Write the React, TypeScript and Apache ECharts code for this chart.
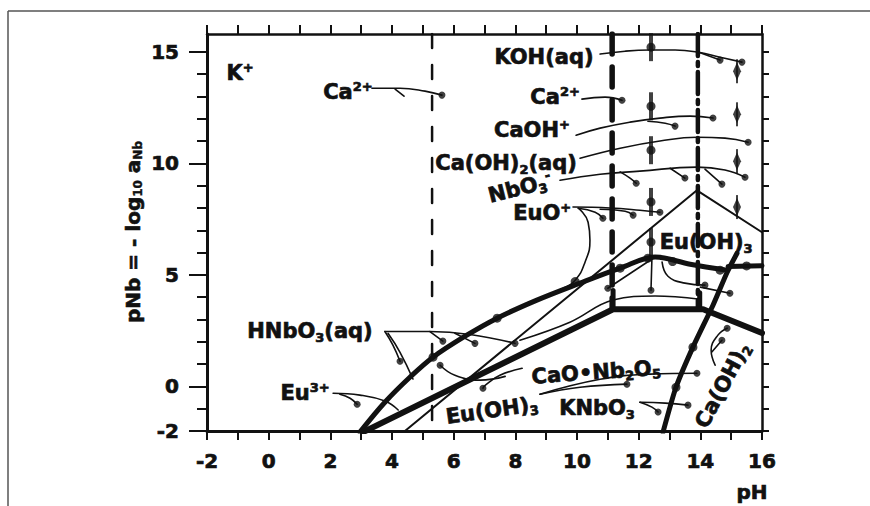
import React, { useEffect, useRef } from "react";
import * as echarts from "echarts";

const INK = "#111111";
const FONT = "DejaVu Sans";

// ---------- axis ranges / ticks ----------
const X_MIN = -2;
const X_MAX = 16;
const Y_MIN = -2;
const Y_MAX = 15.8;
const yMinorTicks = [-2, -1, 0, 1, 2, 3, 4, 5, 6, 7, 8, 9, 10, 11, 12, 13, 14, 15];
const yMajorTicks = [-2, 0, 5, 10, 15];

// ---------- vertical reference lines ----------
const dashedPH = [[5.3, 15.8], [5.3, -2]];
const thickDash1 = [[11.14, 15.8], [11.14, 3.46]];
const thickDash2 = [[13.92, 15.8], [13.92, 3.46]];
const dashEnd1 = [[11.17, 4.3], [11.17, 3.46]];
const dashEnd2 = [[13.98, 4.2], [13.98, 3.46]];
const columnA = [[12.4, 15.21], [12.4, 12.56], [12.4, 10.59], [12.4, 8.27], [12.4, 6.47]];
const columnB = [[15.19, 14.13], [15.19, 12.2], [15.19, 10.1], [15.19, 8.04]];

// ---------- thick predominance boundaries ----------
const thickUpper = [[2.96, -2.05], [3.77, -0.71], [4.58, 0.41], [5.33, 1.31], [6.37, 2.25], [7.41, 3.06], [8.7, 3.87], [10.1, 4.63], [11.4, 5.3], [12.53, 5.8], [13.67, 5.48], [14.87, 5.21]];
const thickRight = [[14.9, 5.37], [16, 5.41]];
const thickLower = [[3.06, -2.05], [11.17, 3.46], [14.09, 3.46], [16, 2.39]];
const thickCaOH2 = [[12.79, -2.05], [13.21, -0.04], [13.76, 1.76], [14.41, 3.64], [14.87, 5.12], [15.19, 5.97]];

// ---------- thin boundaries ----------
const thinRoof = [[4.42, -2], [13.89, 8.79], [16, 6.91]];
const thinArcTop = [[8.15, 2.07], [9.77, 2.88], [11.17, 3.87], [12.53, 4.05], [13.99, 3.91]];
const euoArc = [[10.04, 7.99], [10.36, 7.36], [10.42, 6.55], [10.26, 5.57], [9.94, 4.76], [9.55, 4.4]];

// ---------- label leaders ----------
const kohLead = [[10.75, 14.9], [11.56, 15.03], [12.37, 15.08], [13.18, 15.08], [13.89, 14.99], [14.64, 14.76], [15.35, 14.54]];
const kohBranch = [[13.95, 14.98], [14.64, 14.63]];
const ca2Lead = [[10.16, 12.88], [10.91, 12.97], [11.46, 12.83]];
const caohLead = [[9.97, 11.26], [10.75, 11.58], [11.72, 11.85], [12.69, 12.03], [13.67, 12.12], [14.41, 12.03]];
const caohBranch = [[12.3, 11.89], [12.86, 11.8], [13.18, 11.67]];
const caoh2aqLead = [[10.1, 10.23], [11.4, 10.68], [12.69, 11.0], [13.89, 11.17], [14.8, 11.13], [15.55, 10.95]];
const nbo3Lead = [[9.45, 9.24], [10.75, 9.51], [12.04, 9.65], [13.89, 9.83], [14.8, 9.7], [15.45, 9.38]];
const nbo3BranchA = [[11.4, 9.62], [11.72, 9.34], [11.92, 9.11]];
const nbo3BranchB = [[13.02, 9.78], [13.5, 9.34]];
const nbo3BranchC = [[14.15, 9.74], [14.7, 9.07]];
const euoLead = [[9.87, 8.04], [11.07, 8.0], [12.04, 7.9], [12.69, 7.81]];
const euoBranchA = [[10.04, 7.99], [10.59, 7.81], [10.84, 7.54]];
const euoBranchB = [[10.75, 7.94], [11.56, 7.85], [11.82, 7.68]];
const ca2LeftLead = [[3.35, 13.37], [4.26, 13.37], [5.07, 13.24], [5.62, 13.06]];
const ca2LeftBranch = [[4.1, 13.33], [4.39, 13.01]];
const hnbo3Lead = [[3.77, 2.46], [5.23, 2.46], [6.53, 2.33], [7.99, 1.93]];
const hnbo3BranchA = [[3.77, 2.46], [4.03, 1.85], [4.26, 1.13]];
const hnbo3BranchB = [[3.87, 2.38], [4.26, 1.53], [4.68, 0.33]];
const hnbo3BranchC = [[5.23, 2.46], [5.65, 2.03]];
const hnbo3BranchD = [[6.04, 2.38], [6.69, 1.93]];
const eu3Lead = [[2.09, -0.31], [2.96, -0.39], [3.77, -0.66], [4.2, -1.06]];
const eu3Branch = [[2.31, -0.35], [2.64, -0.53], [2.87, -0.8]];
const caoNbLead = [[8.22, 0.81], [7.5, 0.5], [7.02, 0.05], [6.95, -0.08]];
const caoNbBranch = [[5.56, 0.95], [6.04, 0.5], [6.85, 0.28], [7.67, 0.45]];
const euoh3LowA = [[8.8, -0.35], [10.75, 0.32], [12.37, 0.55], [13.89, 0.59]];
const euoh3LowB = [[8.8, -0.35], [10.1, -0.04], [11.62, 0.1]];
const knbo3Lead = [[12.04, -0.71], [12.86, -0.75], [13.6, -0.84]];
const knbo3Branch = [[12.04, -0.71], [12.43, -0.93], [12.63, -1.15]];
const caoh2Lead = [[14.48, 0.95], [14.35, 1.62], [14.57, 2.3], [14.87, 2.61]];
const caoh2Branch = [[14.38, 1.55], [14.7, 2.07]];
const euoh3UpArc = [[12.76, 5.57], [12.95, 4.94], [13.5, 4.63], [14.15, 4.54]];
const euoh3UpBranch = [[14.0, 4.45], [14.96, 4.18]];
const euoh3UpVert = [[12.43, 5.75], [12.4, 4.31]];
const euoh3UpDiag = [[12.53, 5.8], [11.0, 4.4]];

const leaderDots = [[14.64, 14.63], [15.35, 14.54], [11.46, 12.83], [14.41, 12.03], [13.18, 11.67], [15.55, 10.95], [11.92, 9.11], [13.5, 9.34], [14.7, 9.07], [15.45, 9.38], [12.69, 7.81], [10.84, 7.54], [11.82, 7.68], [5.62, 13.06], [7.99, 1.93], [4.26, 1.13], [5.65, 2.03], [6.69, 1.93], [2.87, -0.8], [13.89, 0.59], [11.62, 0.1], [13.6, -0.84], [12.63, -1.15], [14.87, 2.61], [14.7, 2.07], [14.15, 4.54], [14.96, 4.18], [12.4, 4.31], [11.0, 4.4], [6.95, -0.08], [5.56, 0.95]];
const boundaryDots = [[5.33, 1.31], [7.41, 3.06], [9.94, 4.7], [11.4, 5.3], [12.3, 5.75], [13.1, 5.6], [14.64, 5.21], [15.5, 5.4], [13.76, 1.76], [13.21, -0.04]];

// ---------- species labels ----------
const speciesLabels = [
  { text: "{n|K}{sp|+}", at: [-0.93, 14.04], rotate: 0 },
  { text: "{n|Ca}{sp|2+}", at: [2.57, 13.19], rotate: 0 },
  { text: "{n|KOH(aq)}", at: [8.93, 14.76], rotate: 0 },
  { text: "{n|Ca}{sp|2+}", at: [9.29, 12.97], rotate: 0 },
  { text: "{n|CaOH}{sp|+}", at: [8.54, 11.49], rotate: 0 },
  { text: "{n|Ca(OH)}{sb|2}{n|(aq)}", at: [7.7, 10.01], rotate: 0 },
  { text: "{n|NbO}{sb|3}{sp|-}", at: [8.15, 8.89], rotate: 14 },
  { text: "{n|EuO}{sp|+}", at: [8.87, 7.77], rotate: 0 },
  { text: "{n|Eu(OH)}{sb|3}", at: [14.19, 6.47], rotate: 0 },
  { text: "{n|HNbO}{sb|3}{n|(aq)}", at: [1.34, 2.48], rotate: 0 },
  { text: "{n|Eu}{sp|3+}", at: [1.18, -0.3], rotate: 0 },
  { text: "{n|CaO•Nb}{sb|2}{n|O}{sb|5}", at: [10.62, 0.64], rotate: 4 },
  { text: "{n|Eu(OH)}{sb|3}", at: [7.24, -1.07], rotate: 8 },
  { text: "{n|KNbO}{sb|3}", at: [10.65, -0.98], rotate: 0 },
  { text: "{n|Ca(OH)}{sb|2}", at: [14.72, 0.05], rotate: 62 },
];

const TB = { textBorderColor: INK, textBorderWidth: 0.7 };
const rich = {
  n: { fontSize: 21, fontWeight: "bold", fontFamily: FONT, color: INK, lineHeight: 25, ...TB },
  sb: { fontSize: 13, fontWeight: "bold", fontFamily: FONT, color: INK, lineHeight: 14, verticalAlign: "bottom", ...TB },
  sp: { fontSize: 13, fontWeight: "bold", fontFamily: FONT, color: INK, lineHeight: 14, verticalAlign: "top", ...TB },
};

function line(data: number[][], width: number, extra: any = {}) {
  return {
    type: "line",
    data,
    showSymbol: false,
    symbol: "none",
    silent: true,
    animation: false,
    smooth: extra.smooth ?? 0,
    z: extra.z ?? 3,
    lineStyle: { color: INK, width, type: extra.type ?? "solid", cap: "round", join: "round" },
  };
}

export default function App() {
  const ref = useRef<HTMLDivElement>(null);
  useEffect(() => {
    if (!ref.current) return;
    const chart = echarts.init(ref.current, undefined, { renderer: "svg" });
    const axisCommon = { min: X_MIN, max: X_MAX, interval: 1, type: "value" as const, splitLine: { show: false } };
    const tickLabel = { fontSize: 20, fontWeight: "bold", fontFamily: FONT, color: INK, ...TB };
    const thin = 1.6;
    const option: any = {
      animation: false,
      backgroundColor: "#ffffff",
      grid: { left: 207, right: 108, top: 34, bottom: 75, containLabel: false },
      xAxis: [
        {
          ...axisCommon,
          position: "bottom",
          axisLine: { show: true, onZero: false, lineStyle: { color: INK, width: 3 } },
          axisTick: { show: true, length: 9, lineStyle: { color: INK, width: 2 } },
          axisLabel: { ...tickLabel, margin: 20, formatter: (v: number) => (v % 2 === 0 ? String(v) : "") },
        },
        {
          ...axisCommon,
          position: "top",
          axisLine: { show: true, onZero: false, lineStyle: { color: INK, width: 2.5 } },
          axisTick: { show: true, length: 9, lineStyle: { color: INK, width: 2 } },
          axisLabel: { show: false },
        },
      ],
      yAxis: [
        {
          type: "value", min: Y_MIN, max: Y_MAX, interval: 1, position: "left", splitLine: { show: false },
          axisLine: { show: true, onZero: false, lineStyle: { color: INK, width: 3 } },
          axisTick: { show: true, length: 10, customValues: yMinorTicks, lineStyle: { color: INK, width: 2 } },
          axisLabel: { ...tickLabel, margin: 28, customValues: yMajorTicks },
        },
        {
          type: "value", min: Y_MIN, max: Y_MAX, interval: 1, position: "left", splitLine: { show: false },
          axisLine: { show: false, onZero: false },
          axisTick: { show: true, length: 18, customValues: yMajorTicks, lineStyle: { color: INK, width: 2 } },
          axisLabel: { show: false },
        },
        {
          type: "value", min: Y_MIN, max: Y_MAX, interval: 1, position: "right", splitLine: { show: false },
          axisLine: { show: true, onZero: false, lineStyle: { color: INK, width: 2.5 } },
          axisTick: { show: true, length: 7, customValues: yMinorTicks, lineStyle: { color: INK, width: 2 } },
          axisLabel: { show: false },
        },
      ],
      graphic: [
        { type: "line", shape: { x1: 8, y1: 11, x2: 870, y2: 11 }, style: { stroke: "#555", lineWidth: 1.5 } },
        { type: "line", shape: { x1: 8, y1: 11, x2: 8, y2: 506 }, style: { stroke: "#555", lineWidth: 1.5 } },
        {
          type: "text", x: 752, y: 492,
          style: { text: "pH", fontSize: 20, fontWeight: "bold", fontFamily: FONT, fill: INK, stroke: INK, lineWidth: 0.7, align: "center", verticalAlign: "middle" },
        },
        {
          type: "text", x: 133, y: 232, rotation: Math.PI / 2,
          style: {
            text: "{t|pNb = - log}{s|10}{t| a}{s|Nb}",
            align: "center", verticalAlign: "middle",
            rich: {
              t: { fontSize: 20, fontWeight: "bold", fontFamily: FONT, fill: INK, stroke: INK, lineWidth: 0.6, lineHeight: 22 },
              s: { fontSize: 12, fontWeight: "bold", fontFamily: FONT, fill: INK, stroke: INK, lineWidth: 0.4, lineHeight: 12, verticalAlign: "bottom" },
            },
          },
        },
      ],
      series: [
        line(dashedPH, 2.5, { type: [14, 17] }),
        line(thickDash1, 5.5, { type: [20, 13] }),
        line(thickDash2, 4.5, { type: [22, 6, 4, 6] }),
        line(dashEnd1, 5),
        line(dashEnd2, 5),
        line(thickUpper, 5, { smooth: 0.35, z: 4 }),
        line(thickRight, 5, { z: 4 }),
        line(thickLower, 6, { z: 4 }),
        line(thickCaOH2, 5, { smooth: 0.2, z: 4 }),
        line(thinRoof, 2),
        line(thinArcTop, thin, { smooth: 0.4 }),
        line(euoArc, thin, { smooth: 0.5 }),
        ...[kohLead, kohBranch, ca2Lead, caohLead, caohBranch, caoh2aqLead, nbo3Lead, nbo3BranchA, nbo3BranchB, nbo3BranchC,
          euoLead, euoBranchA, euoBranchB, ca2LeftLead, ca2LeftBranch, hnbo3Lead, hnbo3BranchA, hnbo3BranchB, hnbo3BranchC,
          hnbo3BranchD, eu3Lead, eu3Branch, caoNbLead, caoNbBranch, euoh3LowA, euoh3LowB, knbo3Lead, knbo3Branch, caoh2Lead, caoh2Branch,
          euoh3UpArc, euoh3UpBranch, euoh3UpVert, euoh3UpDiag].map((d) => line(d, thin, { smooth: 0.45 })),
        {
          type: "scatter", data: leaderDots, symbol: "circle", symbolSize: 7, silent: true, z: 5,
          itemStyle: { color: INK },
        },
        {
          type: "scatter", data: boundaryDots, symbol: "circle", symbolSize: 9, silent: true, z: 5,
          itemStyle: { color: INK },
        },
        {
          type: "scatter", data: columnA, symbol: "rect", symbolSize: [4, 28], silent: true, z: 5,
          itemStyle: { color: INK },
        },
        {
          type: "scatter", data: columnA, symbol: "circle", symbolSize: 9, silent: true, z: 5,
          itemStyle: { color: INK },
        },
        {
          type: "scatter", data: columnB, symbol: "rect", symbolSize: [2, 24], silent: true, z: 5,
          itemStyle: { color: INK },
        },
        {
          type: "scatter", data: columnB, symbol: "diamond", symbolSize: [8, 18], silent: true, z: 5,
          itemStyle: { color: INK },
        },
        {
          type: "scatter", silent: true, z: 6, symbolSize: 1, itemStyle: { color: "rgba(0,0,0,0)" },
          data: speciesLabels.map((l) => ({
            value: l.at,
            label: {
              show: true, position: "inside", formatter: l.text, rotate: l.rotate, rich,
              color: INK, opacity: 1, ...TB,
            },
          })),
        },
      ],
    };
    chart.setOption(option);
    return () => chart.dispose();
  }, []);
  return <div ref={ref} style={{ position: "absolute", left: 0, top: 0, width: 870, height: 506, background: "#fff" }} />;
}
